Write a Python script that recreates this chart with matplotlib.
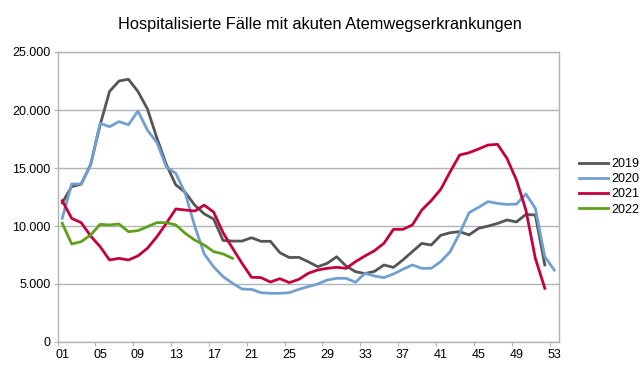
import matplotlib
matplotlib.use("Agg")
import matplotlib.pyplot as plt
from matplotlib.ticker import FuncFormatter

# Kalenderwochen 1..53
weeks = list(range(1, 54))

# Werte je Jahr
y2019 = [12000, 13400, 13600, 15300, 18700, 21600, 22500, 22650, 21600, 20100,
         17600, 15300, 13550, 12900, 11800, 11050, 10600, 8750, 8700, 8700,
         8990, 8680, 8680, 7700, 7280, 7300, 6920, 6490, 6780, 7350,
         6550, 6060, 5900, 6090, 6640, 6430, 7070, 7790, 8500, 8360,
         9200, 9420, 9510, 9230, 9800, 9990, 10220, 10520, 10350, 11000,
         10950, 6640]
y2020 = [10660, 13620, 13620, 15260, 18850, 18560, 19000, 18730, 19910, 18270,
         17210, 15100, 14540, 12820, 10000, 7600, 6480, 5630, 5060, 4570,
         4540, 4250, 4200, 4200, 4250, 4540, 4770, 5000, 5340, 5490,
         5490, 5150, 5920, 5690, 5550, 5860, 6270, 6640, 6350, 6350,
         6930, 7790, 9370, 11150, 11610, 12100, 11950, 11860, 11890, 12760,
         11530, 7350, 6200]
y2021 = [12180, 10660, 10290, 9140, 8220, 7070, 7210, 7070, 7420, 8080,
         9070, 10230, 11470, 11380, 11290, 11800, 11200, 9420, 8080, 6780,
         5580, 5550, 5170, 5460, 5120, 5400, 5920, 6210, 6350, 6440,
         6350, 6930, 7420, 7870, 8510, 9710, 9710, 10090, 11380, 12190,
         13160, 14680, 16120, 16320, 16640, 16980, 17040, 15830, 13970, 11380,
         7210, 4630]
y2022 = [10230, 8450, 8650, 9220, 10140, 10090, 10170, 9510, 9600, 9940,
         10290, 10290, 10090, 9370, 8790, 8360, 7790, 7590, 7210]

series = [("2019", y2019, "#555555"),
          ("2020", y2020, "#729fcf"),
          ("2021", y2021, "#c5003e"),
          ("2022", y2022, "#5ea01c")]

plt.rcParams['font.family'] = ['Liberation Sans', 'DejaVu Sans']

fig = plt.figure(figsize=(6.4, 3.69), dpi=100)
ax = fig.add_axes([57.5 / 640, 1 - 342 / 369, (559 - 57.5) / 640, (342 - 52) / 369])

for name, vals, col in series:
    ax.plot(weeks[:len(vals)], vals, color=col, lw=2, label=name)

ax.set_xlim(0.5, 53.5)
ax.set_ylim(0, 25000)
ax.set_yticks(range(0, 25001, 5000))
ax.yaxis.set_major_formatter(FuncFormatter(lambda v, p: f"{int(v):,}".replace(",", ".")))
ax.grid(axis="y", color="#b3b3b3", lw=1)
ax.set_axisbelow(True)

# Striche zwischen den Kategorien, Beschriftung in der Mitte
ax.set_xticks([0.5 + 4 * k for k in range(14)])
ax.set_xticklabels([])
ax.set_xticks([1 + 4 * k for k in range(14)], minor=True)
ax.set_xticklabels([f"{1 + 4 * k:02d}" for k in range(14)], minor=True)
ax.tick_params(axis="x", which="minor", length=0, labelsize=9, pad=5)
ax.tick_params(axis="x", which="major", length=3, color="#b3b3b3")
ax.tick_params(axis="y", length=3, color="#b3b3b3", labelsize=9, pad=2)

for s in ax.spines.values():
    s.set_color("#b3b3b3")
    s.set_linewidth(1)

fig.suptitle("Hospitalisierte Fälle mit akuten Atemwegserkrankungen",
             x=320 / 640, y=1 - 25 / 369, va="center", fontsize=11.8)

ax.legend(loc="center left", bbox_to_anchor=(1.018, 0.535), frameon=False,
          fontsize=9, handlelength=2.3, handletextpad=0.3, labelspacing=0.25)

fig.savefig("out.png", dpi=100)
